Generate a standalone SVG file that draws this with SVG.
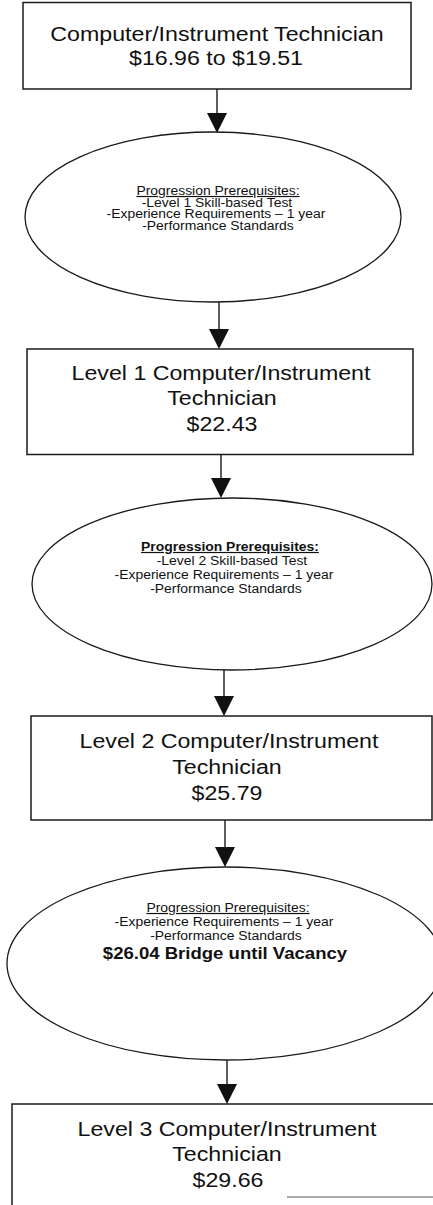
<svg xmlns="http://www.w3.org/2000/svg" width="433" height="1205" viewBox="0 0 433 1205">
<style>
.bg{fill:#fff}
.box{fill:#fff;stroke:#1a1a1a;stroke-width:1.5}
.ell{fill:#fff;stroke:#1a1a1a;stroke-width:1.3}
.con{stroke:#1a1a1a;stroke-width:1.4;fill:none}
.art{fill:#111}
text{font-family:"Liberation Sans",Arial,sans-serif;fill:#111;text-anchor:middle;transform:scaleX(1.16);transform-box:fill-box;transform-origin:center}
.big{font-size:20px}
.sm{font-size:12px}
.hd{text-decoration:underline}
.b{font-weight:bold}
.bb{font-size:16px;font-weight:bold}
.faint{stroke:#555;stroke-width:1.2}
</style>
<rect class="bg" x="0" y="0" width="433" height="1205"/>
<g id="connectors">
<line class="con" x1="217" y1="89" x2="217" y2="114"/>
<polygon class="art" points="207,113 227,113 217,133"/>
<line class="con" x1="219" y1="302" x2="219" y2="330"/>
<polygon class="art" points="209,329 229,329 219,349"/>
<line class="con" x1="221" y1="455" x2="221" y2="479"/>
<polygon class="art" points="211,478 231,478 221,498"/>
<line class="con" x1="224" y1="670" x2="224" y2="697"/>
<polygon class="art" points="214,696 234,696 224,716"/>
<line class="con" x1="225" y1="820" x2="225" y2="848"/>
<polygon class="art" points="215,847 235,847 225,867"/>
<line class="con" x1="227" y1="1060" x2="227" y2="1085"/>
<polygon class="art" points="217,1084 237,1084 227,1104"/>
</g>
<g id="box1">
<rect class="box" x="23" y="2.5" width="388" height="86.5"/>
<text class="big" x="217" y="41">Computer/Instrument Technician</text>
<text class="big" x="216" y="65">$16.96 to $19.51</text>
</g>
<g id="ellipse1">
<ellipse class="ell" cx="213" cy="217" rx="188" ry="85"/>
<text class="sm hd" x="218" y="195">Progression Prerequisites:</text>
<text class="sm" x="217" y="207">-Level 1 Skill-based Test</text>
<text class="sm" x="216" y="218.5">-Experience Requirements – 1 year</text>
<text class="sm" x="218" y="230">-Performance Standards</text>
</g>
<g id="box2">
<rect class="box" x="27" y="349" width="386" height="105.5"/>
<text class="big" x="221" y="380">Level 1 Computer/Instrument</text>
<text class="big" x="222" y="405">Technician</text>
<text class="big" x="222" y="431">$22.43</text>
</g>
<g id="ellipse2">
<ellipse class="ell" cx="232" cy="584" rx="200" ry="86"/>
<text class="sm hd b" x="230" y="551">Progression Prerequisites:</text>
<text class="sm" x="232" y="565">-Level 2 Skill-based Test</text>
<text class="sm" x="224" y="579">-Experience Requirements – 1 year</text>
<text class="sm" x="226" y="593">-Performance Standards</text>
</g>
<g id="box3">
<rect class="box" x="31" y="716" width="401" height="104"/>
<text class="big" x="229" y="748">Level 2 Computer/Instrument</text>
<text class="big" x="227" y="774">Technician</text>
<text class="big" x="227" y="800">$25.79</text>
</g>
<g id="ellipse3">
<ellipse class="ell" cx="225" cy="963.5" rx="218" ry="96.5"/>
<text class="sm hd" x="228" y="912">Progression Prerequisites:</text>
<text class="sm" x="224" y="926">-Experience Requirements – 1 year</text>
<text class="sm" x="226" y="940">-Performance Standards</text>
<text class="bb" x="225" y="959">$26.04 Bridge until Vacancy</text>
</g>
<g id="box4">
<rect class="box" x="12" y="1104" width="432" height="112"/>
<line class="faint" x1="287" y1="1197" x2="433" y2="1197"/>
<text class="big" x="227" y="1136">Level 3 Computer/Instrument</text>
<text class="big" x="227" y="1161">Technician</text>
<text class="big" x="228" y="1187">$29.66</text>
</g>
</svg>
